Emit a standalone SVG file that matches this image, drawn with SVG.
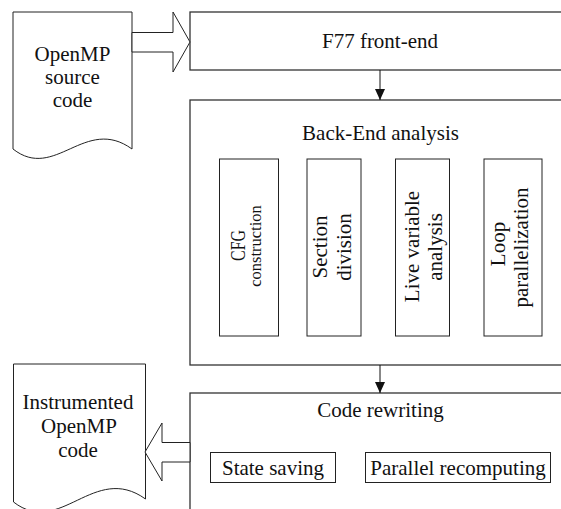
<svg xmlns="http://www.w3.org/2000/svg" width="561" height="509" viewBox="0 0 561 509">
<defs>
<style>
.box{fill:#fff;stroke:#333;stroke-width:1.3}
.inner{fill:#fff;stroke:#222;stroke-width:1}
.doc{fill:#fff;stroke:#222;stroke-width:1}
.bigarrow{fill:#fff;stroke:#222;stroke-width:1}
.conn{stroke:#111;stroke-width:1;fill:none}
text{font-family:"Liberation Serif","Times New Roman",serif;font-size:21px;fill:#111;text-anchor:middle}
.small{font-size:16.5px}
</style>
<marker id="ah" markerWidth="11" markerHeight="10" refX="11" refY="5" orient="auto" markerUnits="userSpaceOnUse" viewBox="0 0 11 10">
<path d="M0,0 L11,5 L0,10 Z" fill="#111"/>
</marker>
</defs>
<rect width="561" height="509" fill="#fff"/>

<g id="src-doc">
<path class="doc" d="M13,12 L132,12 L132,149 C85,115 55,182 13,149 Z"/>
<text x="72.5" y="61">OpenMP</text>
<text x="72.5" y="84">source</text>
<text x="72.5" y="107">code</text>
</g>

<g id="front-end">
<rect class="box" x="190" y="12" width="380" height="58"/>
<text x="380" y="48">F77 front-end</text>
</g>

<g id="back-end">
<rect class="box" x="190" y="100" width="380" height="265"/>
<text x="380.5" y="140">Back-End analysis</text>
</g>

<g id="cfg">
<rect class="inner" x="219.5" y="159" width="59" height="177"/>
<text transform="translate(245,245.5) rotate(-90)" textLength="31" lengthAdjust="spacingAndGlyphs">CFG</text>
<text class="small" transform="translate(261,246) rotate(-90)">construction</text>
</g>

<g id="section">
<rect class="inner" x="307" y="159" width="54" height="177"/>
<text transform="translate(326.5,247) rotate(-90)">Section</text>
<text transform="translate(350.5,247) rotate(-90)">division</text>
</g>

<g id="live">
<rect class="inner" x="395.5" y="159" width="54" height="177"/>
<text transform="translate(418.5,246.5) rotate(-90)">Live variable</text>
<text transform="translate(442,247) rotate(-90)">analysis</text>
</g>

<g id="loop">
<rect class="inner" x="484" y="159" width="58" height="177"/>
<text transform="translate(505,244) rotate(-90)">Loop</text>
<text transform="translate(528,247.5) rotate(-90)">parallelization</text>
</g>

<g id="rewrite">
<rect class="box" x="190" y="393" width="380" height="130"/>
<text x="380.5" y="417">Code rewriting</text>
</g>

<g id="state">
<rect class="inner" x="210.5" y="452.5" width="125" height="30"/>
<text x="273" y="475">State saving</text>
</g>

<g id="parallel">
<rect class="inner" x="365.5" y="452.5" width="185" height="30"/>
<text x="458" y="475">Parallel recomputing</text>
</g>

<g id="out-doc">
<path class="doc" d="M13.5,364 L145.5,364 L145.5,499 C94,462 60,538 13.5,502 Z"/>
<text x="78" y="409">Instrumented</text>
<text x="79" y="433">OpenMP</text>
<text x="78" y="457">code</text>
</g>

<g id="connectors">
<polygon class="bigarrow" points="132,32.5 173,32.5 173,12 190,42 173,72 173,52 132,52"/>
<polygon class="bigarrow" points="190,442.5 162,442.5 162,423 145,452 162,481 162,462 190,462"/>
<line class="conn" x1="380" y1="70" x2="380" y2="100" marker-end="url(#ah)"/>
<line class="conn" x1="380" y1="365" x2="380" y2="393" marker-end="url(#ah)"/>
</g>
</svg>
